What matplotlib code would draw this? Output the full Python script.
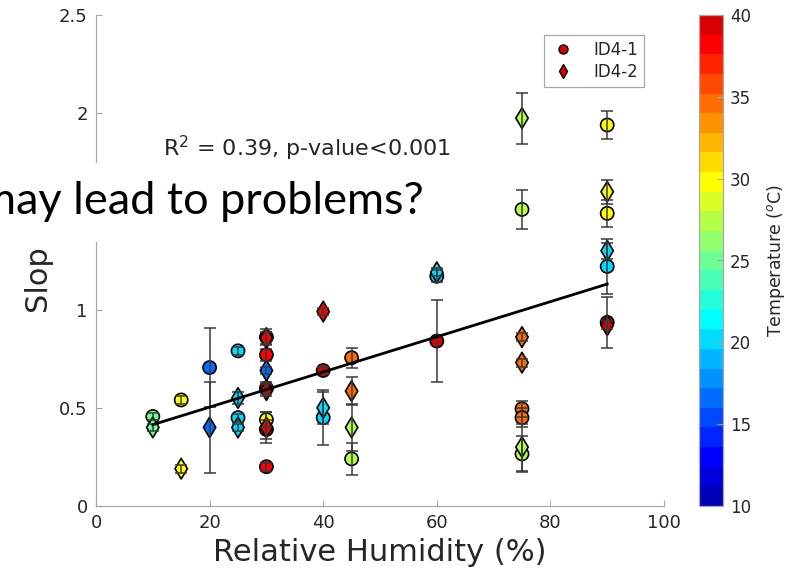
import matplotlib
matplotlib.use('Agg')
import numpy as np
import matplotlib.pyplot as plt
import matplotlib.colors as mcolors
from matplotlib.lines import Line2D
from matplotlib.patches import Rectangle

# ID4-1 (circles): relative humidity, slope, error, temperature
rh_1 = [10, 15, 20, 25, 25, 30, 30, 30, 30, 30, 30, 40, 40, 45, 45,
        60, 60, 75, 75, 75, 75, 90, 90, 90, 90]
slope_1 = [0.456, 0.54, 0.705, 0.79, 0.45, 0.86, 0.77, 0.60, 0.44, 0.39, 0.20,
           0.69, 0.45, 0.755, 0.24, 0.84, 1.17, 1.51, 0.495, 0.45, 0.265,
           1.94, 1.49, 1.22, 0.935]
err_1 = [0.02, 0.02, 0.20, 0.02, 0.02, 0.04, 0.03, 0.03, 0.04, 0.05, 0.02,
         0.02, 0.14, 0.05, 0.08, 0.21, 0.03, 0.10, 0.04, 0.05, 0.09,
         0.07, 0.07, 0.14, 0.13]
temp_1 = [25, 29.8, 16.5, 20.5, 20, 39, 38, 39, 29.8, 38, 38,
          39, 20, 34, 27.5, 39, 20, 27.5, 34, 34, 27.5,
          29.8, 29.8, 20, 39]

# ID4-2 (diamonds)
rh_2 = [10, 15, 20, 25, 25, 30, 30, 30, 30, 40, 40, 45, 45,
        60, 75, 75, 75, 75, 90, 90, 90]
slope_2 = [0.40, 0.19, 0.40, 0.55, 0.40, 0.855, 0.69, 0.59, 0.40, 0.99, 0.50,
           0.585, 0.40, 1.19, 1.975, 0.86, 0.73, 0.30, 1.60, 1.30, 0.92]
err_2 = [0.02, 0.02, 0.23, 0.03, 0.02, 0.03, 0.02, 0.03, 0.08, 0.02, 0.08,
         0.07, 0.12, 0.02, 0.13, 0.02, 0.02, 0.12, 0.06, 0.04, 0.02]
temp_2 = [25, 29.8, 16.5, 20, 20, 38, 16.5, 39, 38, 38, 20,
          34, 27.5, 20, 27.5, 34, 34, 27.5, 29.5, 20, 39]

# linear fit end points
fit_x = [10, 90]
fit_y = [0.414, 1.130]


def matlab_jet(m):
    # same construction as MATLAB's jet(m)
    n = int(np.ceil(m / 4))
    u = np.concatenate([np.arange(1, n + 1) / n, np.ones(n - 1),
                        np.arange(n, 0, -1) / n])
    g = int(np.ceil(n / 2)) - (1 if m % 4 == 1 else 0) + np.arange(1, len(u) + 1)
    r, b = g + n, g - n
    rgb = np.zeros((m, 3))
    for ch, idx in enumerate([r, g, b]):
        ok = (idx >= 1) & (idx <= m)
        rgb[idx[ok] - 1, ch] = u[ok]
    return mcolors.ListedColormap(rgb)


W, H = 794, 582
fig = plt.figure(figsize=(W / 100, H / 100), dpi=100)
ax = fig.add_axes([96 / W, 1 - 506 / H, 568 / W, 491 / H])
cax = fig.add_axes([699 / W, 1 - 506 / H, 24 / W, 491 / H])

cmap = matlab_jet(25)
norm = mcolors.Normalize(10, 40)
axcol = '#a8a8a8'
txtcol = '#262626'

ax.scatter(rh_1, slope_1, c=temp_1, cmap=cmap, norm=norm, marker='o', s=90,
           edgecolors='k', linewidths=1.2, zorder=2)
ax.scatter(rh_2, slope_2, c=temp_2, cmap=cmap, norm=norm, marker='d', s=110,
           edgecolors='k', linewidths=1.2, zorder=2)
for x, y, e in [(rh_1, slope_1, err_1), (rh_2, slope_2, err_2)]:
    ax.errorbar(x, y, yerr=e, fmt='none', ecolor='#3a3a3a', elinewidth=1.1,
                capsize=4, capthick=1.1, zorder=3)
ax.plot(fit_x, fit_y, color='k', lw=2, zorder=4)

ax.text(11.8, 1.82, r'R$^2$ = 0.39, p-value<0.001', fontsize=16,
        color=txtcol, va='center')

ax.set_xlim(0, 100)
ax.set_ylim(0, 2.5)
ax.set_xticks(np.arange(0, 101, 20))
ax.set_yticks([0, 0.5, 1, 1.5, 2, 2.5])
# the 1.5 label sits under the white note box
ax.set_yticklabels(['0', '0.5', '1', '', '2', '2.5'])
for s in ['top', 'right']:
    ax.spines[s].set_visible(False)
for s in ['left', 'bottom']:
    ax.spines[s].set_color(axcol)
    ax.spines[s].set_linewidth(0.9)
ax.tick_params(direction='in', length=4, color=axcol, labelcolor=txtcol,
               labelsize=13, pad=6)
ax.set_xlabel('Relative Humidity (%)', fontsize=22, color=txtcol, labelpad=4)
ax.set_ylabel('Slop', fontsize=22, color=txtcol)
ax.yaxis.set_label_coords(-0.078, 0.464)

red = cmap(norm(39))
handles = [Line2D([], [], ls='none', marker='o', markerfacecolor=red,
                  markeredgecolor='k', markersize=6.5, label='ID4-1'),
           Line2D([], [], ls='none', marker='d', markerfacecolor=red,
                  markeredgecolor='k', markersize=7.5, label='ID4-2')]
leg = ax.legend(handles=handles, loc='upper right',
                bbox_to_anchor=(0.979, 0.976), fontsize=12, fancybox=False,
                framealpha=1, edgecolor=axcol, handletextpad=1.0,
                borderpad=0.35, labelspacing=0.25, handlelength=1.6)
leg.get_frame().set_linewidth(0.9)
for t in leg.get_texts():
    t.set_color(txtcol)

sm = plt.cm.ScalarMappable(norm=norm, cmap=cmap)
cb = fig.colorbar(sm, cax=cax, ticks=np.arange(10, 41, 5))
cb.outline.set_edgecolor(axcol)
cb.outline.set_linewidth(0.9)
cax.tick_params(direction='in', length=4, color=axcol, labelcolor=txtcol,
                labelsize=12, pad=5)
cb.set_label('Temperature ($^o$C)', fontsize=12.5, color=txtcol, labelpad=10)

# white box with overlaid note
fig.add_artist(Rectangle((0, 1 - 242 / H), 440 / W, 79 / H,
                         transform=fig.transFigure, facecolor='white',
                         edgecolor='none', zorder=10))
fig.text(424 / W, 1 - 214 / H, 'may lead to problems?', ha='right',
         va='baseline', fontsize=32.5, family='Lato', color='black', zorder=11)

fig.savefig('out.png', dpi=100)
